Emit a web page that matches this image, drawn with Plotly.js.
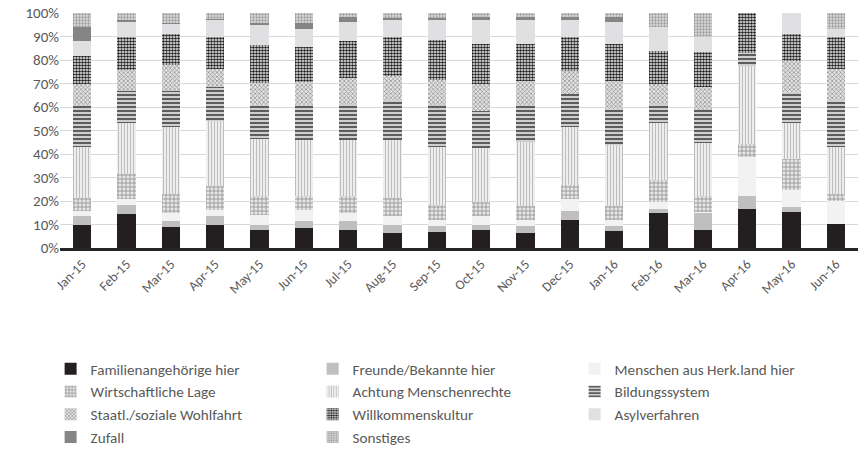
<!DOCTYPE html>
<html>
<head>
<meta charset="utf-8">
<script src="https://cdn.plot.ly/plotly-3.0.1.min.js"></script>
<style>html,body{margin:0;padding:0;background:#fff;}#chart{width:858px;height:450px;}</style>
</head>
<body>
<div id="chart"></div>
<script>
const months = ["Jan-15","Feb-15","Mar-15","Apr-15","May-15","Jun-15","Jul-15","Aug-15","Sep-15","Oct-15","Nov-15","Dec-15","Jan-16","Feb-16","Mar-16","Apr-16","May-16","Jun-16"];

const familienangehoerige = [9.7,14.6,9.0,9.6,7.6,8.6,7.6,6.5,6.8,7.6,6.5,12.1,7.2,15.0,7.6,16.8,15.2,10.4];
const freunde            = [3.8,3.6,2.4,3.9,2.4,2.8,3.8,3.5,2.5,2.4,2.8,3.5,2.1,1.5,7.3,5.4,2.1,0];
const menschenHerkland   = [2.1,2.6,3.5,2.8,4.2,4.7,3.5,3.8,2.8,3.5,2.8,5.2,2.8,3.0,0.3,16.5,7.5,9.5];
const wirtschaft         = [5.7,10.6,8.1,10.2,7.8,5.9,7.4,7.5,6.4,5.9,5.9,6.1,5.9,9.5,6.8,5.5,12.9,3.2];
const menschenrechte     = [21.8,21.8,28.5,27.4,24.2,23.9,23.6,24.6,24.6,23.3,27.2,24.6,25.8,24.0,22.5,33.1,15.3,20.0];
const bildung            = [17.9,13.8,15.3,14.6,14.5,14.8,15.2,16.9,17.2,15.6,15.5,13.9,15.5,8.4,14.1,5.6,13.3,20.0];
const wohlfahrt          = [8.6,8.8,11.2,7.7,9.4,9.9,11.3,10.6,11.2,11.6,10.3,9.8,11.7,8.5,9.9,0,13.4,13.1];
const willkommen         = [12.2,13.8,13.0,13.7,16.4,14.8,15.5,16.2,17.0,17.1,15.8,14.7,15.8,13.8,14.7,17.1,11.3,13.7];
const asyl               = [6.4,6.7,4.2,7.0,8.4,7.7,8.4,7.3,8.4,9.9,10.1,7.0,9.5,10.4,6.7,0,9.0,3.2];
const zufall             = [5.9,0.9,0.7,0.7,0.9,2.8,2.0,1.1,1.1,1.4,1.4,1.4,2.0,0,0,0,0,0];
const sonstiges          = [5.9,2.8,4.1,2.4,4.2,4.1,1.7,2.0,2.0,1.7,1.7,1.7,1.7,5.9,10.1,0,0,6.9];

const seriesNames = ["Familienangehörige hier","Freunde/Bekannte hier","Menschen aus Herk.land hier","Wirtschaftliche Lage","Achtung Menschenrechte","Bildungssystem","Staatl./soziale Wohlfahrt","Willkommenskultur","Asylverfahren","Zufall","Sonstiges"];
const seriesValues = [familienangehoerige,freunde,menschenHerkland,wirtschaft,menschenrechte,bildung,wohlfahrt,willkommen,asyl,zufall,sonstiges];

const styles = [
  {color:"#231f20"},
  {color:"#bfbfbf"},
  {color:"#f2f2f2"},
  {color:"#d9d9d9", pattern:{shape:"+", fgcolor:"#8a8a8a", bgcolor:"#e6e6e6", size:4, solidity:0.35}},
  {color:"#eeeeee", pattern:{shape:"|", fgcolor:"#bdbdbd", bgcolor:"#f4f4f4", size:3, solidity:0.4}},
  {color:"#777777", pattern:{shape:"-", fgcolor:"#505050", bgcolor:"#cfcfcf", size:4, solidity:0.45}},
  {color:"#bbbbbb", pattern:{shape:"x", fgcolor:"#8c8c8c", bgcolor:"#e3e3e3", size:3, solidity:0.4}},
  {color:"#444444", pattern:{shape:".", fgcolor:"#1e1e1e", bgcolor:"#ffffff", size:3, solidity:0.6}},
  {color:"#e0e0e3"},
  {color:"#858585"},
  {color:"#c8c8c8", pattern:{shape:".", fgcolor:"#9a9a9a", bgcolor:"#dcdcdc", size:3, solidity:0.45}}
];

const traces = seriesNames.map((n,i)=>{
  const m = {color: styles[i].color, line:{width:0}};
  if (styles[i].pattern) m.pattern = Object.assign({fillmode:"replace"}, styles[i].pattern);
  return {type:"bar", name:n, x:months, y:seriesValues[i], marker:m, hoverinfo:"name+y"};
});

const font = "Carlito, Lato, 'Open Sans', sans-serif";
const layout = {
  width:858, height:450,
  barmode:"stack", barnorm:"percent", bargap:0.59,
  margin:{l:60, r:0, t:13, b:202},
  paper_bgcolor:"#fff", plot_bgcolor:"#fff",
  font:{family:font, color:"#595959", size:14},
  xaxis:{type:"category", tickangle:-45, tickfont:{size:13.5, color:"#595959"}, showline:true, linecolor:"#262626", linewidth:3, ticks:"", showgrid:false, fixedrange:true, automargin:false},
  yaxis:{range:[0,100], dtick:10, ticksuffix:"%", tickfont:{size:15, color:"#595959"}, gridcolor:"#d9d9d9", gridwidth:1, showline:false, zeroline:false, ticks:"", fixedrange:true, automargin:false},
  legend:{orientation:"h", xref:"container", yref:"container", x:0.059, xanchor:"left", y:0.217, yanchor:"top", entrywidth:217, entrywidthmode:"pixels", traceorder:"normal", font:{size:15.2, color:"#595959"}, itemclick:false},
  showlegend:true
};

Plotly.newPlot("chart", traces, layout, {staticPlot:true, displayModeBar:false});
</script>
</body>
</html>
